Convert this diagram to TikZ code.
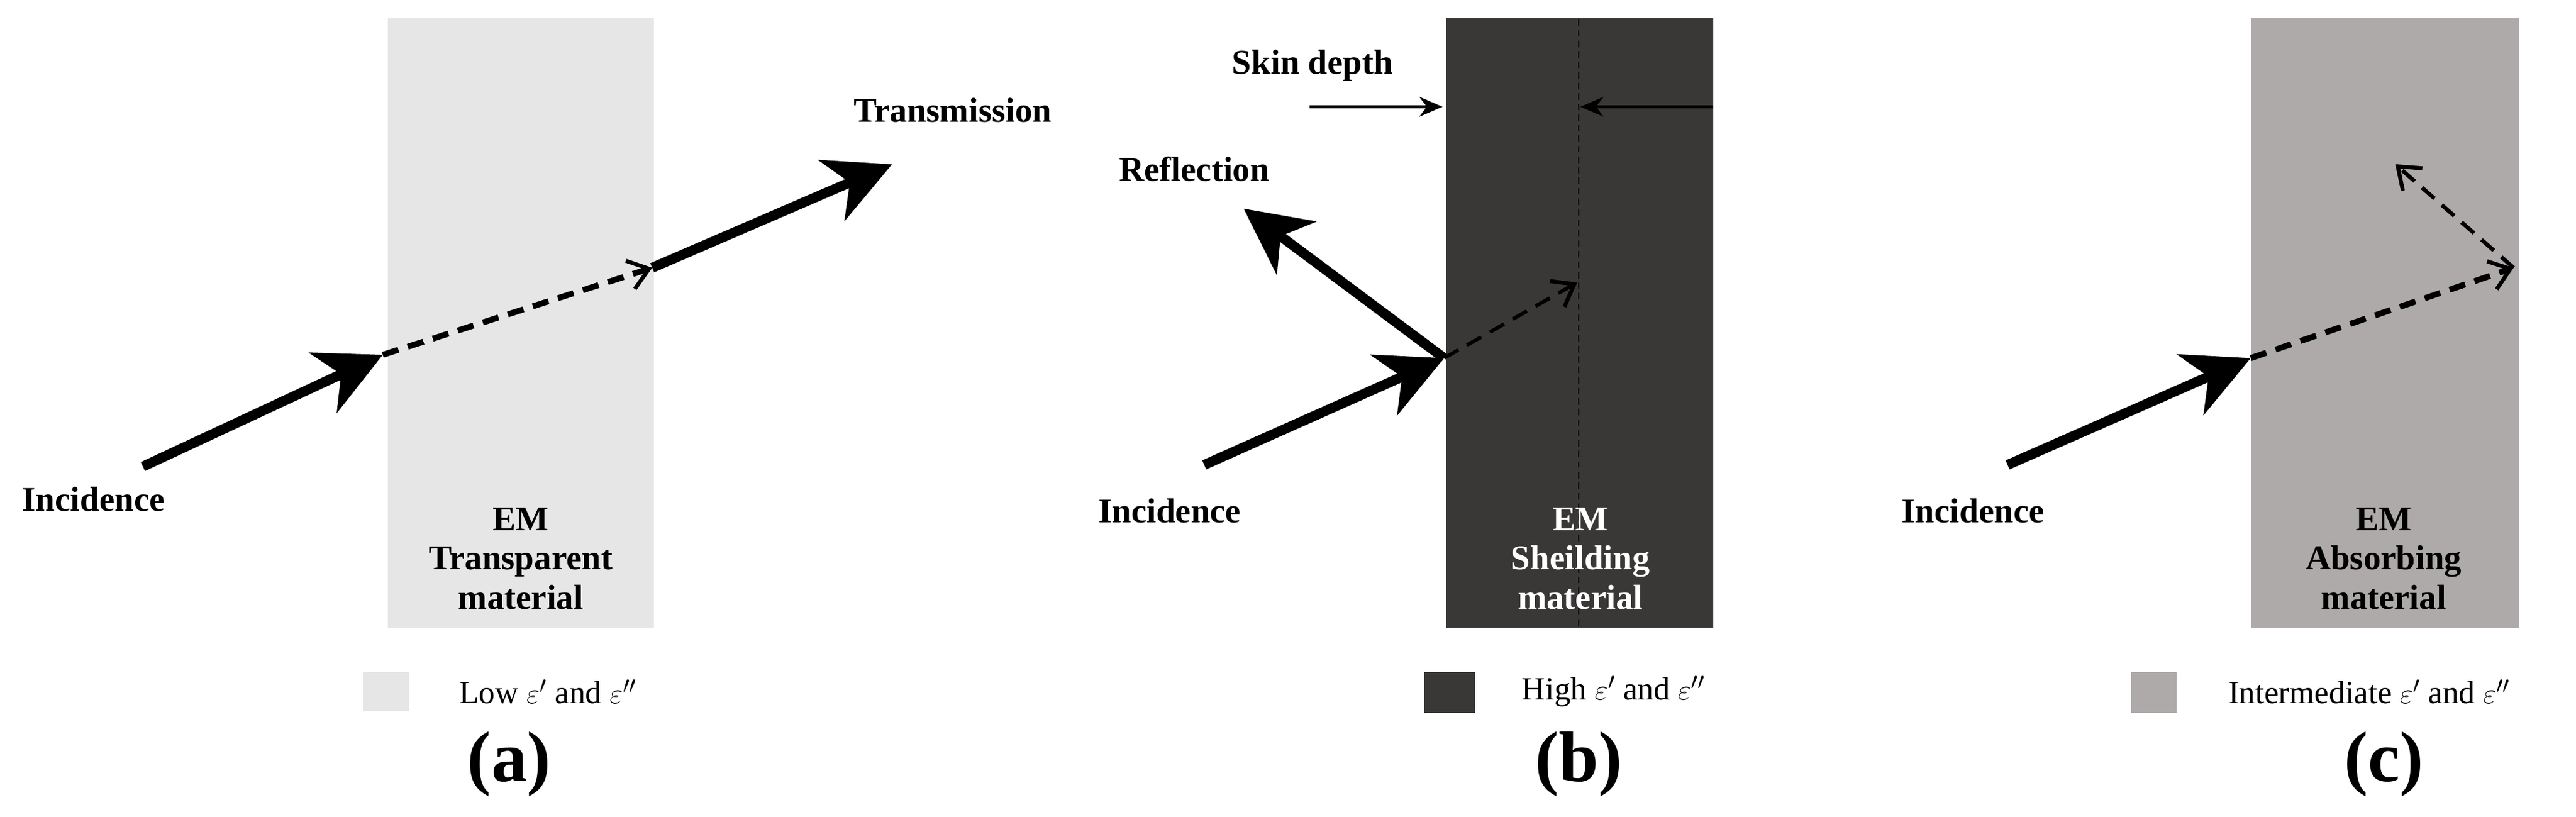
\documentclass[tikz,border=0pt]{standalone}
\usepackage{fontspec}
\setmainfont{Liberation Serif}
\usetikzlibrary{arrows.meta}
\definecolor{ca}{HTML}{E6E6E6}
\definecolor{cb}{HTML}{3A3836}
\definecolor{cc}{HTML}{ADAAA9}
\tikzset{
 big/.style={line width=3mm,-{Stealth[length=20mm,width=20mm,inset=6mm]}},
 thin/.style={line width=1.3mm,dash pattern=on 5mm off 3mm,-{Straight Barb[length=6mm,width=9mm,line width=1.2mm]}},
 lab/.style={font=\fontsize{30}{34}\selectfont\bfseries},
 mat/.style={font=\fontsize{30}{34}\selectfont\bfseries,align=center},
 leg/.style={font=\fontsize{28}{32}\selectfont,anchor=west},
 panelcap/.style={font=\fontsize{62}{70}\selectfont\bfseries},
}
\begin{document}
\begin{tikzpicture}[x=0.5mm,y=-0.5mm]
\useasboundingbox (0,0) rectangle (1568,497);
% ---------- (a)
\fill[ca] (236,11) rectangle (398,382);
\node[mat] (ma) at (317,340) {EM\\Transparent\\material};
\coordinate (a0) at (87,284); \coordinate (a1) at (233,216);
\coordinate (a2) at (397,163); \coordinate (a3) at (543,100);
\draw[big] (a0) -- (a1);
\draw[thin,line width=1.8mm] (a1) -- (a2);
\draw[big] (a2) -- (a3);
\node[lab] (ia) at (57,304) {Incidence};
\node[lab] (ta) at (580,67) {Transmission};
\fill[ca] (221,409) rectangle (249,433);
\node[leg] (la) at (277,421) {Low $\varepsilon'$ and $\varepsilon''$};
\node[panelcap] (ca) at (310,465) {(a)};
% ---------- (b)
\fill[cb] (880,11) rectangle (1043,382);
\draw[line width=0.5mm,dash pattern=on 2mm off 1.2mm] (961,12) -- (961,382);
\node[mat,text=white] (mb) at (962,340) {EM\\Sheilding\\material};
\coordinate (b0) at (733,283); \coordinate (b1) at (879,218);
\coordinate (b2) at (757,127); \coordinate (b3) at (960,172);
\draw[big] (b0) -- (b1);
\draw[big] (b1) -- (b2);
\draw[thin,line width=1.1mm] (b1) -- (b3);
\coordinate (s0) at (797,65); \coordinate (s1) at (878,65);
\coordinate (s2) at (1043,65); \coordinate (s3) at (962,65);
\draw[line width=0.9mm,-{Stealth[length=7mm,width=6mm]}] (s0) -- (s1);
\draw[line width=0.9mm,-{Stealth[length=7mm,width=6mm]}] (s2) -- (s3);
\node[lab] (sk) at (799,40) {Skin depth};
\node[lab] (rb) at (727,103) {Reflection};
\node[lab] (ib) at (712,311) {Incidence};
\fill[cb] (867,409) rectangle (898,434);
\node[leg] (lb) at (924,421) {High $\varepsilon'$ and $\varepsilon''$};
\node[panelcap] (cbn) at (961,465) {(b)};
% ---------- (c)
\fill[cc] (1370,11) rectangle (1533,382);
\node[mat] (mc) at (1451,340) {EM\\Absorbing\\material};
\coordinate (c0) at (1222,283); \coordinate (c1) at (1370,218);
\coordinate (c2) at (1530,163); \coordinate (c3) at (1458,100);
\draw[big] (c0) -- (c1);
\draw[thin,line width=1.8mm] (c1) -- (c2);
\draw[thin,line width=1.2mm] (c2) -- (c3);
\node[lab] (ic) at (1201,311) {Incidence};
\fill[cc] (1297,409) rectangle (1325,434);
\node[leg] (lc) at (1354,421) {Intermediate $\varepsilon'$ and $\varepsilon''$};
\node[panelcap] (ccn) at (1451,465) {(c)};
\end{tikzpicture}
\end{document}
